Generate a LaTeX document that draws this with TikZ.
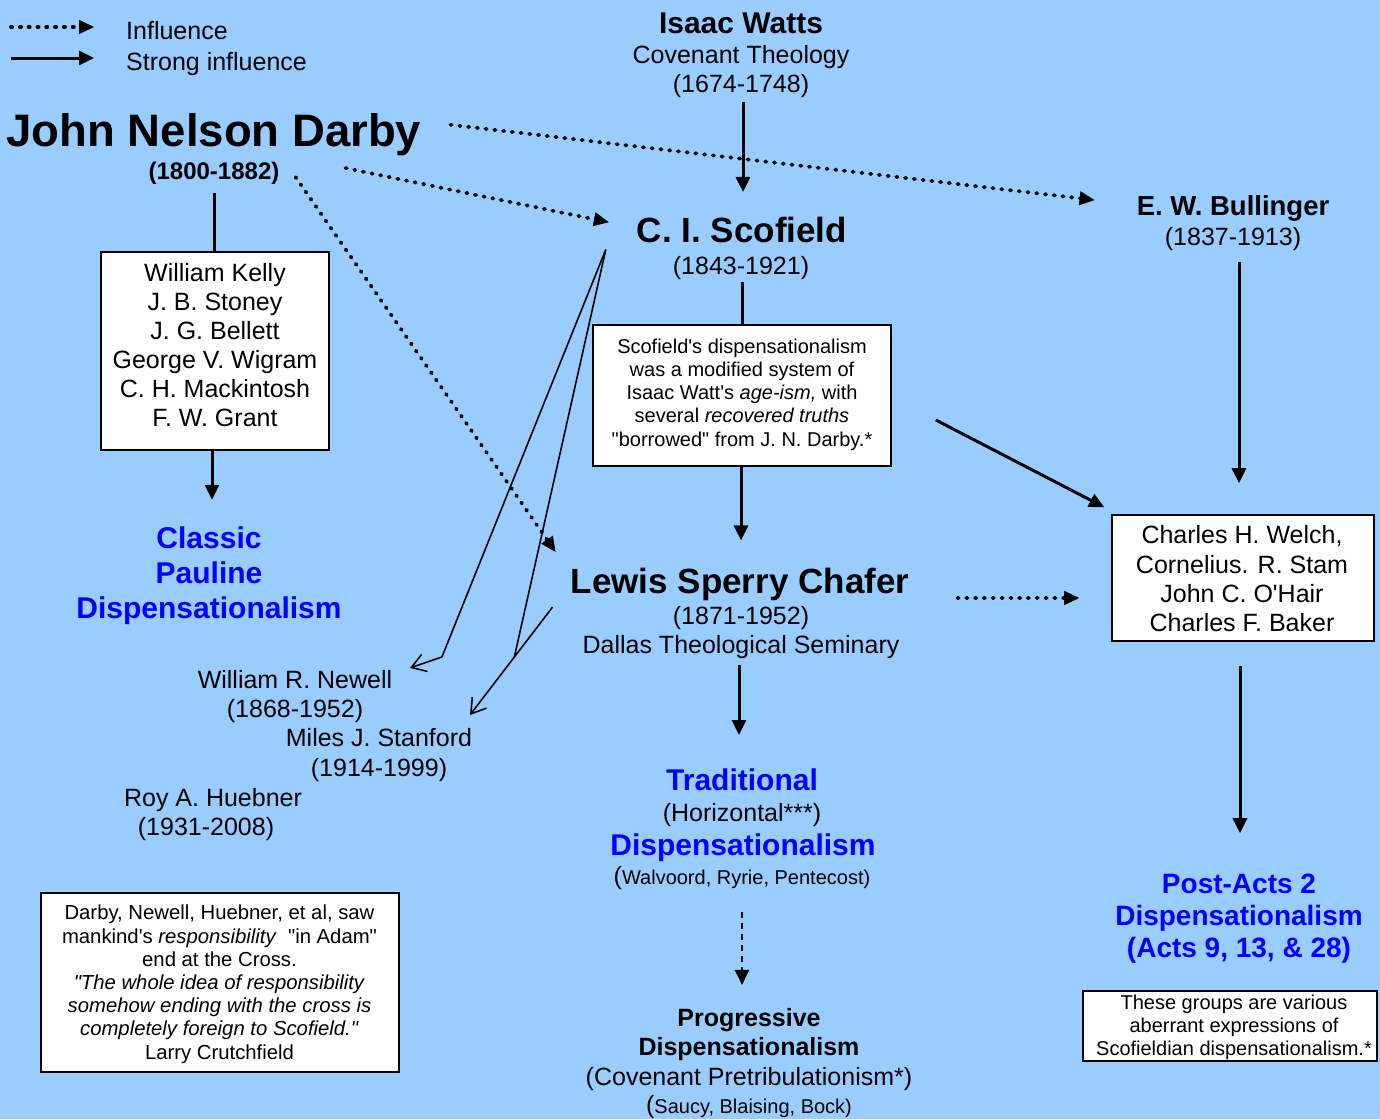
\documentclass[tikz,border=0pt]{standalone}
\usepackage{fontspec}
\setmainfont{Liberation Sans}[Ligatures=TeXOff]
\usetikzlibrary{arrows.meta,calc}
\definecolor{bgblue}{HTML}{99CCFF}
\definecolor{myblue}{HTML}{0000FF}
\newcommand{\myfs}[2]{\fontsize{#1}{#2}\selectfont}
\begin{document}
\begin{tikzpicture}[x=1pt,y=-1pt,
  lbl/.style={inner sep=0pt, align=center, font=\myfs{25}{29}},
  hd/.style={inner sep=0pt, anchor=base},
  bx/.style={draw=black, line width=1.6pt, fill=white, inner sep=0pt},
  strongline/.style={line width=3pt},
  strong/.style={line width=3pt, -{Triangle[length=15pt,width=14pt]}},
  infl/.style={line width=3.8pt, dash pattern=on 1.2pt off 7.6pt, line cap=round, -{Triangle[length=15pt,width=14pt,line width=1pt]}},
  thinline/.style={line width=1.6pt},
  thinarr/.style={line width=1.6pt, -{Straight Barb[length=14pt,width=18pt]}},
  dasharr/.style={line width=2pt, dash pattern=on 6pt off 5pt, -{Triangle[length=15pt,width=14pt]}}]
\fill[bgblue] (0,0) rectangle (1380,1119);
\useasboundingbox (0,0) rectangle (1380,1119);

% legend
\coordinate (l1s) at (11,27); \coordinate (l1e) at (94,27);
\coordinate (l2s) at (11,58); \coordinate (l2e) at (94,58);
\draw[infl] (l1s) -- (l1e);
\draw[strong] (l2s) -- (l2e);
\node[hd, anchor=base west, font=\myfs{25}{29}] (leg1) at (126,39) {Influence};
\node[hd, anchor=base west, font=\myfs{25}{29}] (leg2) at (126,70) {Strong influence};

% Darby
\node[hd, font=\myfs{45.5}{50}\bfseries] (darby) at (214,146) {John Nelson Darby};
\node[hd, font=\myfs{24}{28}\bfseries] (darbyd) at (214,179) {(1800-1882)};

% Watts
\node[hd, font=\myfs{30}{34}\bfseries] (watts) at (741,33) {Isaac Watts};
\node[lbl] (wattsd) at (741,72) {Covenant Theology\\(1674-1748)};

% Scofield
\node[hd, font=\myfs{35}{40}\bfseries] (scof) at (742,242) {C. I. Scofield};
\node[hd, font=\myfs{25}{29}] (scofd) at (741,274) {(1843-1921)};

% Bullinger
\node[hd, font=\myfs{27.5}{32}\bfseries] (bull) at (1233,215) {E. W. Bullinger};
\node[hd, font=\myfs{25}{29}] (bulld) at (1233,245) {(1837-1913)};

% Name box
\node[bx, minimum width=228pt, minimum height=198pt] (namebox) at (215,351) {};
\node[lbl] (names) at (215,345.5) {William Kelly\\J. B. Stoney\\J. G. Bellett\\George V. Wigram\\C. H. Mackintosh\\F. W. Grant};

% Classic
\node[lbl, font=\myfs{30}{35}\bfseries, text=myblue] (classic) at (209,576) {Classic\\Pauline\\Dispensationalism};

% Scofield box
\node[bx, minimum width=298pt, minimum height=141pt] (scofbox) at (742,395.5) {};
\node[lbl, font=\myfs{20}{23.3}] (scoftext) at (742,394.5) {Scofield's dispensationalism\\was a modified system of\\Isaac Watt's \textit{age-ism,} with\\several \textit{recovered truths}\\"borrowed" from J. N. Darby.*};

% Welch box
\node[bx, minimum width=262pt, minimum height=126pt] (welchbox) at (1243,578) {};
\node[lbl, font=\myfs{25}{29.3}] (welch) at (1242,578.9) {Charles H. Welch,\\Cornelius. R. Stam\\John C. O'Hair\\Charles F. Baker};

% Chafer
\node[hd, font=\myfs{35}{40}\bfseries] (chafer) at (740,593) {Lewis Sperry Chafer};
\node[lbl] (chaferd) at (741,633) {(1871-1952)\\Dallas Theological Seminary};

% Newell, Stanford, Huebner
\node[lbl] (newell) at (295,697) {William R. Newell\\(1868-1952)};
\node[lbl, font=\myfs{25}{30}] (stanford) at (379,755.5) {Miles J. Stanford\\(1914-1999)};
\node[hd, font=\myfs{25}{29}] (hueb) at (213,806) {Roy A. Huebner};
\node[hd, font=\myfs{25}{29}] (huebd) at (206,835) {(1931-2008)};

% Traditional
\node[hd, font=\myfs{30}{34}\bfseries, text=myblue] (trad) at (742,790) {Traditional};
\node[hd, font=\myfs{25}{29}] (horiz) at (742,821) {(Horizontal***)};
\node[hd, font=\myfs{30}{34}\bfseries, text=myblue] (tradd) at (743,855) {Dispensationalism};
\node[hd, font=\myfs{20}{24}] (walv) at (742,884) {{\myfs{25}{29}(}Walvoord, Ryrie, Pentecost)};

% Progressive
\node[lbl, font=\myfs{25}{29}\bfseries] (prog) at (749,1035) {Progressive\\Dispensationalism};
\node[hd, font=\myfs{25}{29}] (covpre) at (749,1085) {(Covenant Pretribulationism*)};
\node[hd, font=\myfs{20}{24}] (saucy) at (749,1113) {{\myfs{25}{29}(}Saucy, Blaising, Bock)};

% Post-Acts
\node[lbl, font=\myfs{28}{32}\bfseries, text=myblue] (postacts) at (1239,918.7) {Post-Acts 2\\Dispensationalism\\(Acts 9, 13, \& 28)};

% aberrant box
\node[bx, minimum width=294pt, minimum height=70pt] (aberbox) at (1230,1026) {};
\node[lbl, font=\myfs{20}{23}] (aber) at (1234,1027.8) {These groups are various\\aberrant expressions of\\Scofieldian dispensationalism.*};

% responsibility box
\node[bx, minimum width=358pt, minimum height=179pt] (respbox) at (220,982.5) {};
\node[lbl, font=\myfs{20.3}{23.2}] (resp) at (219.5,984.3) {Darby, Newell, Huebner, et al, saw\\mankind's \textit{responsibility}\ \ "in Adam"\\end at the Cross.\\\textit{"The whole idea of responsibility}\\\textit{somehow ending with the cross is}\\\textit{completely foreign to Scofield."}\\Larry Crutchfield};

% connectors
\draw[strongline] ([yshift=-9pt]darbyd.south) -- (darbyd.south |- namebox.north);
\draw[strong] ([xshift=-3pt]namebox.south) -- ([xshift=3pt,yshift=27pt]classic.north);
\draw[strong] ([xshift=2pt,yshift=-4pt]wattsd.south) -- ([xshift=1pt,yshift=24.5pt]scof.north);
\draw[strongline] ([xshift=1pt,yshift=-3pt]scofd.south) -- (scofbox.north);
\draw[strong] ([xshift=-1pt]scofbox.south) -- ([xshift=1pt,yshift=27pt]chafer.north);
\draw[strong] ([xshift=-2pt,yshift=-6pt]chaferd.south) -- ([xshift=-3pt,yshift=33pt]trad.north);
\draw[dasharr] ([yshift=-23pt]walv.south) -- ([xshift=-7pt,yshift=23.7pt]prog.north);
\draw[strong] ([xshift=6pt,yshift=-12pt]bulld.south) -- ([xshift=-4pt,yshift=31pt]welchbox.north);
\draw[strong] ([xshift=-3pt,yshift=-24pt]welchbox.south) -- ([xshift=1pt,yshift=40.6pt]postacts.north);
\draw[strong] ([shift={(44pt,-24.5pt)}]scofbox.east) -- ([shift={(-7pt,7pt)}]welchbox.north west);

\draw[infl] ([shift={(48pt,-14pt)}]chafer.east) -- ([shift={(-32pt,-20pt)}]welchbox.west);
\draw[infl] ([shift={(29pt,9.5pt)}]darby.east) -- ([shift={(-42pt,7.9pt)}]bull.west);
\draw[infl] ([shift={(66pt,4.7pt)}]darbyd.east) -- ([shift={(-28pt,7.25pt)}]scof.west);
\draw[infl] ([shift={(16pt,-4.3pt)}]darbyd.east) -- ([shift={(-15pt,32pt)}]chafer.west);

\coordinate (chs) at ([shift={(-18pt,-23.1pt)}]chafer.west);
\coordinate (che) at ([shift={(91pt,13.7pt)}]stanford.north);
\draw[thinarr] (chs) -- (che);
\draw[thinarr] ([shift={(-31pt,-7pt)}]scof.south west) -- ([shift={(49.5pt,13.7pt)}]newell.north east) -- ([shift={(17.5pt,2.7pt)}]newell.north east);
\draw[thinline] ([shift={(-31pt,-7pt)}]scof.south west) -- ($(chs)!0.463!(che)$);
\end{tikzpicture}
\end{document}
